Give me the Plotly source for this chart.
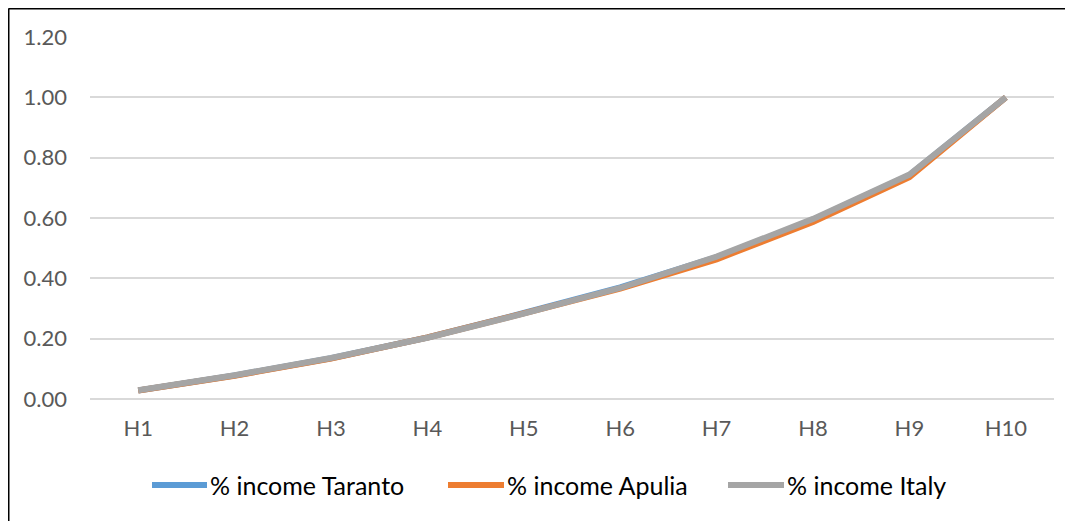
import plotly.graph_objects as go

categories = ["H1", "H2", "H3", "H4", "H5", "H6", "H7", "H8", "H9", "H10"]
taranto = [0.028, 0.078, 0.135, 0.204, 0.285, 0.370, 0.470, 0.594, 0.742, 1.0]
apulia = [0.028, 0.077, 0.134, 0.204, 0.284, 0.366, 0.463, 0.587, 0.735, 1.0]
italy = [0.029, 0.079, 0.136, 0.203, 0.283, 0.368, 0.472, 0.597, 0.744, 1.0]
y_ticks = [0.0, 0.2, 0.4, 0.6, 0.8, 1.0, 1.2]
series_names = ["% income Taranto", "% income Apulia", "% income Italy"]
series_colors = ["#5B9BD5", "#ED7D31", "#A5A5A5"]

# page is offset by the 8px body margin
OFF = 8
W, H = 1073 - OFF, 521 - OFF
L, R, T, B = 82, 19, 29, 122
pw, ph = W - L - R, H - T - B


def px(x_page):
    return (x_page - OFF - L) / pw


def py(y_page):
    return (H - B - (y_page - OFF)) / ph


fig = go.Figure()
for name, vals, col in zip(series_names, [taranto, apulia, italy], series_colors):
    fig.add_trace(go.Scatter(
        x=categories, y=vals, mode="lines", name=name,
        line=dict(color=col, width=6),
        showlegend=False,
    ))

# custom legend (Excel-style long line symbols)
legend_line_x = [(152, 207), (448, 504), (728, 784)]
shapes = []
annotations = []
for (x0, x1), name, col in zip(legend_line_x, series_names, series_colors):
    shapes.append(dict(type="line", xref="paper", yref="paper",
                       x0=px(x0), x1=px(x1), y0=py(485), y1=py(485),
                       line=dict(color=col, width=6)))
    annotations.append(dict(xref="paper", yref="paper", x=px(x1 + 1), y=py(485),
                            xanchor="left", yanchor="middle", showarrow=False,
                            text=name, font=dict(size=25, color="#000000")))

# chart border (left and top visible)
shapes.append(dict(type="line", xref="paper", yref="paper",
                   x0=px(8.5), x1=px(8.5), y0=py(8.5), y1=py(530),
                   line=dict(color="#000000", width=2)))
shapes.append(dict(type="line", xref="paper", yref="paper",
                   x0=px(8.5), x1=px(1080), y0=py(8.5), y1=py(8.5),
                   line=dict(color="#000000", width=2)))

fig.update_layout(
    width=W, height=H,
    margin=dict(l=L, r=R, t=T, b=B),
    paper_bgcolor="white", plot_bgcolor="white",
    font=dict(family="Lato, Carlito, Calibri, sans-serif", color="#595959"),
    showlegend=False,
    xaxis=dict(
        type="category", range=[-0.5, 9.5], showgrid=False, showline=False,
        zeroline=False, ticks="", tickfont=dict(size=22, color="#595959"),
        ticklabelstandoff=14,
    ),
    yaxis=dict(
        range=[0, 1.2], tickvals=y_ticks, tickformat=".2f",
        showgrid=True, gridcolor="#D9D9D9", gridwidth=1.5,
        zeroline=True, zerolinecolor="#D9D9D9", zerolinewidth=1.5,
        showline=False, ticks="", tickfont=dict(size=22, color="#595959"),
        ticklabelstandoff=22,
    ),
    shapes=shapes,
    annotations=annotations,
)

fig.write_html("out.html")
